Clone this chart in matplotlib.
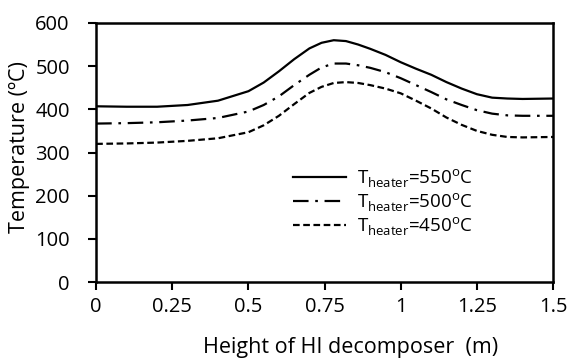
import matplotlib
matplotlib.use("Agg")
import matplotlib.pyplot as plt

# height along the decomposer (m) and temperatures (C)
height = [0, 0.1, 0.2, 0.3, 0.4, 0.5, 0.55, 0.6, 0.65, 0.7, 0.74, 0.78, 0.82,
          0.86, 0.9, 0.95, 1.0, 1.05, 1.1, 1.15, 1.2, 1.25, 1.3, 1.35, 1.4, 1.5]
t_550 = [407, 406, 406, 410, 420, 442, 462, 488, 516, 541, 554, 560, 558,
         550, 540, 526, 509, 494, 480, 463, 448, 435, 427, 425, 424, 425]
t_500 = [367, 368, 370, 374, 380, 395, 410, 430, 456, 480, 497, 506, 506,
         502, 496, 486, 472, 456, 440, 423, 410, 398, 390, 386, 385, 385]
t_450 = [320, 321, 323, 327, 333, 347, 363, 385, 412, 438, 452, 461, 463,
         461, 456, 448, 437, 420, 402, 381, 364, 350, 341, 336, 335, 336]

labels = ["550", "500", "450"]
xticks = [0, 0.25, 0.5, 0.75, 1, 1.25, 1.5]
xticklabels = ["0", "0.25", "0.5", "0.75", "1", "1.25", "1.5"]
yticks = [0, 100, 200, 300, 400, 500, 600]

plt.rcParams['font.family'] = ['Open Sans', 'DejaVu Sans']
plt.rcParams['mathtext.fontset'] = 'custom'
plt.rcParams['mathtext.rm'] = 'Open Sans'

fig = plt.figure(figsize=(5.69, 3.64), dpi=100)
ax = fig.add_axes([0.169, 0.225, 0.803, 0.712])

ax.plot(height, t_550, color='black', lw=1.6, ls='-',
        label=r'T$_{\rm heater}$=' + labels[0] + r'$^{\rm o}$C')
ax.plot(height, t_500, color='black', lw=1.6, ls=(0, (7, 3, 1.2, 3)),
        label=r'T$_{\rm heater}$=' + labels[1] + r'$^{\rm o}$C')
ax.plot(height, t_450, color='black', lw=1.6, ls=(0, (3, 1.6)),
        label=r'T$_{\rm heater}$=' + labels[2] + r'$^{\rm o}$C')

ax.set_xlim(0, 1.5)
ax.set_ylim(0, 600)
ax.set_xticks(xticks)
ax.set_xticklabels(xticklabels)
ax.set_yticks(yticks)
ax.tick_params(direction='out', length=6, width=1.5, labelsize=14.5)
ax.tick_params(axis='x', pad=5)
ax.tick_params(axis='y', pad=13)
for s in ax.spines.values():
    s.set_linewidth(1.8)

ax.set_xlabel('Height of HI decomposer  (m)', fontsize=15.5)
ax.xaxis.set_label_coords(0.556, -0.21)
ax.set_ylabel('Temperature (ºC)', fontsize=15.5)
ax.yaxis.set_label_coords(-0.145, 0.52)

ax.legend(loc='upper left', bbox_to_anchor=(0.394, 0.51), frameon=False,
          fontsize=13.5, handlelength=2.8, handletextpad=0.6, labelspacing=0.1)

fig.savefig('out.png', dpi=100)
